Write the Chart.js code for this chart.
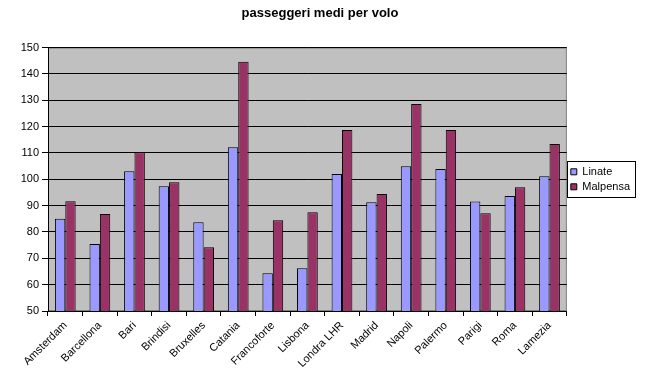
<!DOCTYPE html>
<html>
<head>
<meta charset="utf-8">
<script src="https://cdn.jsdelivr.net/npm/chart.js@4"></script>
<style>
  html, body { margin: 0; padding: 0; background: #fff; }
  #wrap { width: 646px; height: 374px; }
</style>
</head>
<body>
<div id="wrap"><canvas id="voliChart" width="646" height="374"></canvas></div>
<script>
const cities = ["Amsterdam", "Barcellona", "Bari", "Brindisi", "Bruxelles", "Catania", "Francoforte",
  "Lisbona", "Londra LHR", "Madrid", "Napoli", "Palermo", "Parigi", "Roma", "Lamezia"];
const linate = [85, 75.4, 103.1, 97.4, 83.7, 112.2, 64.3, 66.2, 102, 91.3, 105, 103.9, 91.6, 93.7, 101.2];
const malpensa = [91.7, 86.8, 110.3, 98.9, 74.2, 144.6, 84.5, 87.5, 118.7, 94.4, 128.6, 118.7, 87.1, 97, 113.4];
const yTicks = { min: 50, max: 150, step: 10 };

const FONT = "'Liberation Sans', Arial, sans-serif";

// grey plot background + thin border, and a frame round the legend items
const plotFrame = {
  id: "plotFrame",
  beforeDraw(chart) {
    const { ctx, chartArea: a } = chart;
    ctx.save();
    ctx.fillStyle = "#c0c0c0";
    ctx.fillRect(a.left, a.top, a.right - a.left, a.bottom - a.top);
    ctx.strokeStyle = "#808080";
    ctx.lineWidth = 1;
    ctx.strokeRect(a.left + 0.5, a.top + 0.5, a.right - a.left - 1, a.bottom - a.top - 1);
    ctx.restore();
  },
  afterDraw(chart) {
    const boxes = chart.legend && chart.legend.legendHitBoxes;
    if (!boxes || !boxes.length) return;
    const l = Math.min(...boxes.map(b => b.left)) - 4;
    const t = Math.min(...boxes.map(b => b.top)) - 5;
    const r = Math.max(...boxes.map(b => b.left + b.width)) + 5;
    const btm = Math.max(...boxes.map(b => b.top + b.height)) + 5;
    const ctx = chart.ctx;
    ctx.save();
    ctx.strokeStyle = "#000";
    ctx.lineWidth = 1;
    ctx.strokeRect(Math.round(l) + 0.5, Math.round(t) + 0.5, Math.round(r - l), Math.round(btm - t));
    ctx.restore();
  }
};

new Chart(document.getElementById("voliChart"), {
  type: "bar",
  data: {
    labels: cities,
    datasets: [
      {
        label: "Linate",
        data: linate,
        backgroundColor: "#9999ff",
        borderColor: "#000",
        borderWidth: 1,
        borderSkipped: "bottom"
      },
      {
        label: "Malpensa",
        data: malpensa,
        backgroundColor: "#993366",
        borderColor: "#000",
        borderWidth: 1,
        borderSkipped: "bottom"
      }
    ]
  },
  options: {
    responsive: false,
    animation: false,
    devicePixelRatio: 1,
    layout: { padding: { top: 0, right: 6, bottom: 0, left: 0 } },
    datasets: { bar: { categoryPercentage: 0.6, barPercentage: 1 } },
    plugins: {
      title: {
        display: true,
        text: "passeggeri medi per volo",
        color: "#000",
        font: { family: FONT, size: 13, weight: "bold" },
        padding: { top: 6, bottom: 26 }
      },
      legend: {
        position: "right",
        fullSize: false,
        labels: {
          color: "#000",
          font: { family: FONT, size: 11, lineHeight: 1 },
          boxWidth: 6,
          boxHeight: 6,
          padding: 4,
          useBorderRadius: false
        }
      },
      tooltip: { enabled: false }
    },
    scales: {
      x: {
        afterFit: (s) => { s.height = 63; },
        grid: { display: true, drawOnChartArea: false, color: "#000", tickLength: 5, offset: true },
        border: { color: "#000" },
        ticks: {
          color: "#000",
          font: { family: FONT, size: 11 },
          minRotation: 45,
          maxRotation: 45,
          autoSkip: false
        }
      },
      y: {
        min: yTicks.min,
        max: yTicks.max,
        afterFit: (s) => { s.width = 48; },
        grid: { color: "#000", tickLength: 6 },
        border: { color: "#000" },
        ticks: {
          stepSize: yTicks.step,
          color: "#000",
          font: { family: FONT, size: 11 },
          padding: 3
        }
      }
    }
  },
  plugins: [plotFrame]
});
</script>
</body>
</html>
